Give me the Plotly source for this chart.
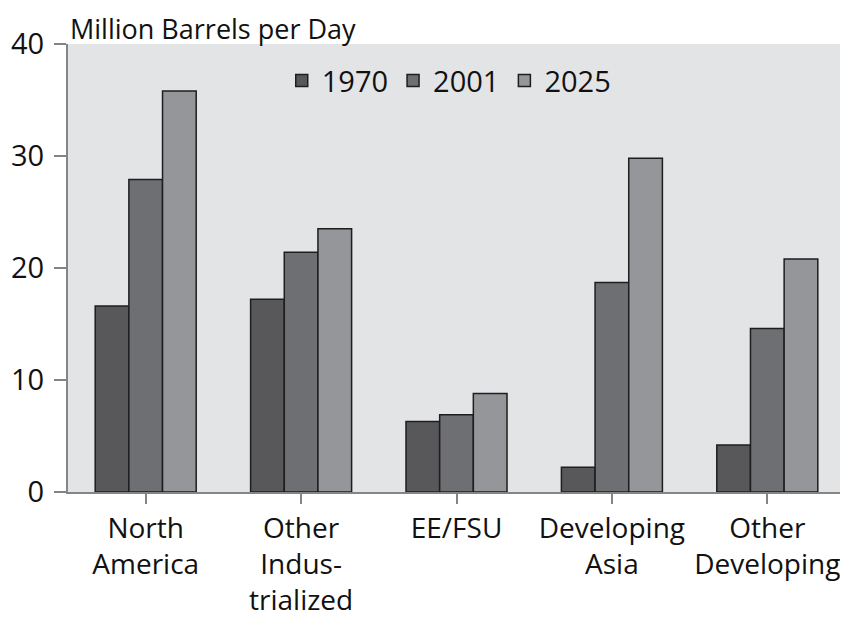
import plotly.graph_objects as go

regions = ['North<br>America', 'Other<br>Indus-<br>trialized', 'EE/FSU',
           'Developing<br>Asia', 'Other<br>Developing']
years = ['1970', '2001', '2025']
v1970 = [16.6, 17.2, 6.3, 2.2, 4.2]
v2001 = [27.9, 21.4, 6.9, 18.7, 14.6]
v2025 = [35.8, 23.5, 8.8, 29.8, 20.8]
colors = ['#58585b', '#6e6f72', '#95969a']

FONT = 'Open Sans'
AXIS = '#858585'

fig = go.Figure()
for name, vals, c in zip(years, [v1970, v2001, v2025], colors):
    fig.add_trace(go.Bar(x=regions, y=vals, name=name, marker_color=c,
                         marker_line=dict(color='#1e1e1e', width=1.5)))

# page has an 8px body margin, so the figure is 8px smaller than the window
fig.update_layout(
    width=840, height=612,
    barmode='group', bargap=0.35, bargroupgap=0,
    plot_bgcolor='#e3e4e6', paper_bgcolor='white',
    margin=dict(l=57, r=3, t=36, b=128),
    font=dict(family=FONT, size=29, color='#111'),
    legend=dict(orientation='h', x=0.49, xanchor='center', y=0.975, yanchor='top',
                bgcolor='rgba(0,0,0,0)', font=dict(size=29),
                itemwidth=30, tracegroupgap=0),
    annotations=[dict(text='Million Barrels per Day', xref='paper', yref='paper',
                      x=0, y=1, xanchor='left', yanchor='bottom', yshift=-5,
                      showarrow=False, font=dict(size=27))],
)
fig.update_yaxes(range=[0, 40], dtick=10, showgrid=False, zeroline=False,
                 showline=True, linecolor=AXIS, linewidth=2,
                 ticks='outside', ticklen=12, tickcolor=AXIS, tickwidth=2,
                 tickfont=dict(size=29), ticklabelstandoff=4)
fig.update_xaxes(showgrid=False, showline=True, linecolor=AXIS, linewidth=2,
                 ticks='outside', ticklen=10, tickcolor=AXIS, tickwidth=2,
                 tickfont=dict(size=28), tickangle=0, automargin=False)

fig.write_html("out.html")
